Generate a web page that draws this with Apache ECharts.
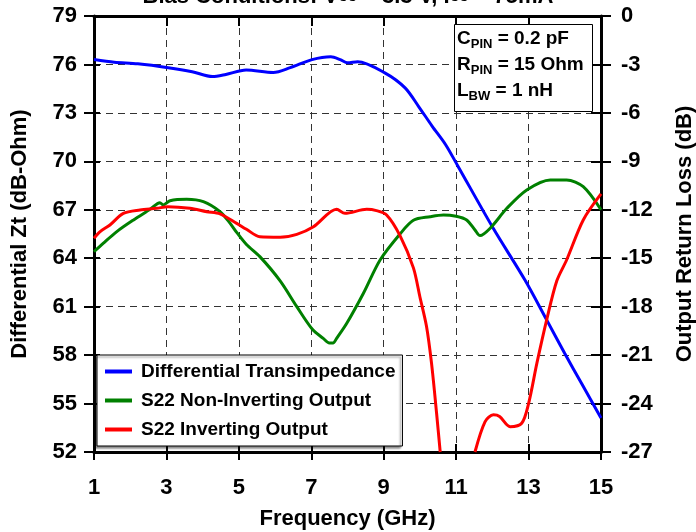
<!DOCTYPE html>
<html><head><meta charset="utf-8">
<script src="https://cdn.jsdelivr.net/npm/echarts@6/dist/echarts.min.js"></script>
<style>html,body{margin:0;padding:0;background:#fff}#c{width:696px;height:532px}</style>
</head><body><div id="c"></div>
<script>
// Frequency tick labels (GHz)
const freqMin = 1, freqMax = 15, freqStep = 2;
const ztMin = 52, ztMax = 79, ztStep = 3;
const rlMin = -27, rlMax = 0, rlStep = 3;

// Differential Transimpedance (dB-Ohm), left axis
const blueFreq = [1.0, 1.56, 2.21, 3.05, 3.71, 4.27, 4.64, 5.2, 5.95, 6.42, 7.02, 7.54, 7.8, 8.0, 8.28, 9.03, 9.59, 9.96, 10.34, 10.71, 11.05, 12.02, 12.9, 13.5, 14.0, 14.5, 15.0];
const blueZt   = [76.3, 76.14, 76.04, 75.8, 75.55, 75.25, 75.38, 75.65, 75.5, 75.8, 76.3, 76.48, 76.3, 76.1, 76.17, 75.48, 74.55, 73.41, 72.17, 71.03, 69.7, 65.87, 62.65, 60.18, 58.1, 56.1, 54.1];

// S22 Non-Inverting Output (dB), right axis
const greenFreq = [1.0, 1.26, 1.63, 2.09, 2.55, 2.82, 2.91, 3.1, 3.56, 4.02, 4.48, 4.76, 4.94, 5.21, 5.58, 6.14, 6.6, 7.03, 7.33, 7.5, 7.6, 7.7, 7.98, 8.44, 8.9, 9.45, 9.82, 10.28, 10.65, 11.0, 11.29, 11.52, 11.66, 11.94, 12.4, 12.95, 13.6, 14.05, 14.51, 15.0];
const greenS22  = [-14.6, -14.07, -13.35, -12.63, -11.97, -11.56, -11.7, -11.44, -11.35, -11.5, -12.12, -12.84, -13.4, -14.15, -14.9, -16.4, -18.0, -19.4, -19.96, -20.25, -20.25, -19.96, -19.03, -17.17, -15.11, -13.5, -12.65, -12.43, -12.32, -12.4, -12.63, -13.25, -13.6, -13.14, -11.91, -10.77, -10.15, -10.15, -10.57, -12.0];

// S22 Inverting Output (dB), right axis (null = trace leaves the plot below -27)
const redFreq = [1.0, 1.17, 1.44, 1.81, 2.27, 2.73, 3.04, 3.65, 4.11, 4.48, 4.94, 5.21, 5.58, 6.14, 6.6, 7.06, 7.7, 7.93, 8.53, 8.8, 9.08, 9.45, 9.82, 10.0, 10.18, 10.32, 10.46, 10.56, 11.0, 11.52, 11.8, 12.03, 12.2, 12.49, 12.81, 13.0, 13.23, 13.5, 13.78, 14.05, 14.51, 15.0];
const redS22  = [-13.76, -13.35, -12.94, -12.22, -12.01, -11.91, -11.81, -11.91, -12.12, -12.25, -12.84, -13.21, -13.67, -13.7, -13.52, -13.05, -11.97, -12.22, -11.97, -12.05, -12.32, -13.6, -15.6, -17.4, -19.2, -21.5, -24.6, -27.0, null, -27.0, -25.12, -24.7, -24.8, -25.43, -25.22, -24.0, -21.5, -18.82, -16.4, -15.11, -12.63, -11.02];

const seriesNames = ['Differential Transimpedance', 'S22 Non-Inverting Output', 'S22 Inverting Output'];
const seriesColors = ['#0000ff', '#008000', '#ff0000'];

const pairs = (xs, ys) => xs.map((x, i) => [x, ys[i]]);
const FONT = '"Liberation Sans", Arial, sans-serif';
const gridStyle = { show: true, lineStyle: { color: '#333', width: 1, type: [7, 5] } };

const chart = echarts.init(document.getElementById('c'), null, { renderer: 'canvas' });
const baseX = { type: 'value', min: freqMin, max: freqMax, interval: freqStep, gridIndex: 0 };
const baseL = { type: 'value', min: ztMin, max: ztMax, interval: ztStep };
const baseR = { type: 'value', min: rlMin, max: rlMax, interval: rlStep };

chart.setOption({
  animation: false,
  backgroundColor: '#fff',
  textStyle: { fontFamily: FONT },
  grid: { left: 94, right: 95, top: 16, bottom: 80, containLabel: false, outerBoundsMode: 'none' },
  xAxis: [
    Object.assign({}, baseX, {
      position: 'bottom',
      axisLine: { show: true, onZero: false, lineStyle: { color: '#000', width: 3 } },
      axisTick: { show: true, inside: false, length: 8, lineStyle: { color: '#000', width: 2 } },
      axisLabel: { show: true, margin: 25, color: '#000', fontSize: 22, fontWeight: 'bold', fontFamily: FONT },
      splitLine: gridStyle,
      name: 'Frequency (GHz)', nameLocation: 'middle', nameGap: 56,
      nameTextStyle: { color: '#000', fontSize: 22, fontWeight: 'bold', fontFamily: FONT }
    }),
    Object.assign({}, baseX, {
      position: 'bottom',
      axisLine: { show: false, onZero: false },
      axisTick: { show: true, inside: true, length: 8, lineStyle: { color: '#000', width: 2 } },
      axisLabel: { show: false }, splitLine: { show: false }
    }),
    Object.assign({}, baseX, {
      position: 'top',
      axisLine: { show: true, onZero: false, lineStyle: { color: '#000', width: 3 } },
      axisTick: { show: true, inside: true, length: 10, lineStyle: { color: '#000', width: 2 } },
      axisLabel: { show: false }, splitLine: { show: false }
    })
  ],
  yAxis: [
    Object.assign({}, baseL, {
      position: 'left',
      axisLine: { show: true, onZero: false, lineStyle: { color: '#000', width: 3 } },
      axisTick: { show: true, inside: false, length: 10, lineStyle: { color: '#000', width: 2 } },
      axisLabel: { show: true, margin: 17, color: '#000', fontSize: 22, fontWeight: 'bold', fontFamily: FONT },
      splitLine: gridStyle,
      name: 'Differential Zt (dB-Ohm)', nameLocation: 'middle', nameGap: 63, nameRotate: 90,
      nameTextStyle: { color: '#000', fontSize: 22, fontWeight: 'bold', fontFamily: FONT }
    }),
    Object.assign({}, baseR, {
      position: 'right',
      axisLine: { show: true, onZero: false, lineStyle: { color: '#000', width: 3 } },
      axisTick: { show: true, inside: false, length: 10, lineStyle: { color: '#000', width: 2 } },
      axisLabel: { show: true, margin: 20, color: '#000', fontSize: 22, fontWeight: 'bold', fontFamily: FONT },
      splitLine: { show: false },
      name: 'Output Return Loss (dB)', nameLocation: 'middle', nameGap: 84, nameRotate: 90,
      nameTextStyle: { color: '#000', fontSize: 22, fontWeight: 'bold', fontFamily: FONT, verticalAlign: 'middle' }
    }),
    Object.assign({}, baseL, {
      position: 'left',
      axisLine: { show: false, onZero: false },
      axisTick: { show: true, inside: true, length: 6, lineStyle: { color: '#000', width: 2 } },
      axisLabel: { show: false }, splitLine: { show: false }
    }),
    Object.assign({}, baseR, {
      position: 'right',
      axisLine: { show: false, onZero: false },
      axisTick: { show: true, inside: true, length: 10, lineStyle: { color: '#000', width: 2 } },
      axisLabel: { show: false }, splitLine: { show: false }
    })
  ],
  legend: {
    data: seriesNames,
    orient: 'vertical',
    left: 97, top: 355,
    padding: [7, 7, 7, 8],
    itemGap: 10,
    itemWidth: 27, itemHeight: 4,
    icon: 'rect',
    backgroundColor: '#fff',
    borderColor: '#000', borderWidth: 1, borderRadius: 0,
    shadowColor: 'rgba(0,0,0,0.45)', shadowBlur: 2, shadowOffsetX: -2, shadowOffsetY: 2,
    textStyle: { color: '#000', fontSize: 19, fontWeight: 'bold', fontFamily: FONT, padding: [0, 0, 0, 4] }
  },
  graphic: [
    {
      type: 'text', left: 'center', top: -14, z: 100,
      style: {
        text: '{b|Bias Conditions: V}{s|CC}{b| = 3.3 V, I}{s|CC}{b| = 75mA}',
        rich: {
          b: { fontSize: 22, fontWeight: 'bold', fontFamily: FONT, fill: '#000', lineHeight: 24 },
          s: { fontSize: 13, fontWeight: 'bold', fontFamily: FONT, fill: '#000', lineHeight: 24 }
        }
      }
    },
    {
      type: 'rect', z: 100,
      shape: { x: 454.5, y: 24.5, width: 138, height: 87 },
      style: { fill: '#fff', stroke: '#000', lineWidth: 1 }
    },
    {
      type: 'text', z: 101, x: 457, y: 26,
      style: {
        text: '{b|C}{s|PIN}{b| = 0.2 pF}\n{b|R}{s|PIN}{b| = 15 Ohm}\n{b|L}{s|BW}{b| = 1 nH}',
        verticalAlign: 'top', align: 'left',
        rich: {
          b: { fontSize: 19, fontWeight: 'bold', fontFamily: FONT, fill: '#000', lineHeight: 26 },
          s: { fontSize: 13, fontWeight: 'bold', fontFamily: FONT, fill: '#000', lineHeight: 26, padding: [11, 0, 0, 0] }
        }
      }
    }
  ],
  series: [
    { name: seriesNames[0], type: 'line', xAxisIndex: 0, yAxisIndex: 0, data: pairs(blueFreq, blueZt),
      symbol: 'none', smooth: 0.3, clip: true, color: seriesColors[0], lineStyle: { width: 3, color: seriesColors[0] }, z: 3 },
    { name: seriesNames[1], type: 'line', xAxisIndex: 0, yAxisIndex: 1, data: pairs(greenFreq, greenS22),
      symbol: 'none', smooth: 0.3, clip: true, color: seriesColors[1], lineStyle: { width: 3, color: seriesColors[1] }, z: 4 },
    { name: seriesNames[2], type: 'line', xAxisIndex: 0, yAxisIndex: 1, data: pairs(redFreq, redS22),
      symbol: 'none', smooth: 0.3, clip: true, connectNulls: false, color: seriesColors[2], lineStyle: { width: 3, color: seriesColors[2] }, z: 5 }
  ]
});
</script>
</body></html>
